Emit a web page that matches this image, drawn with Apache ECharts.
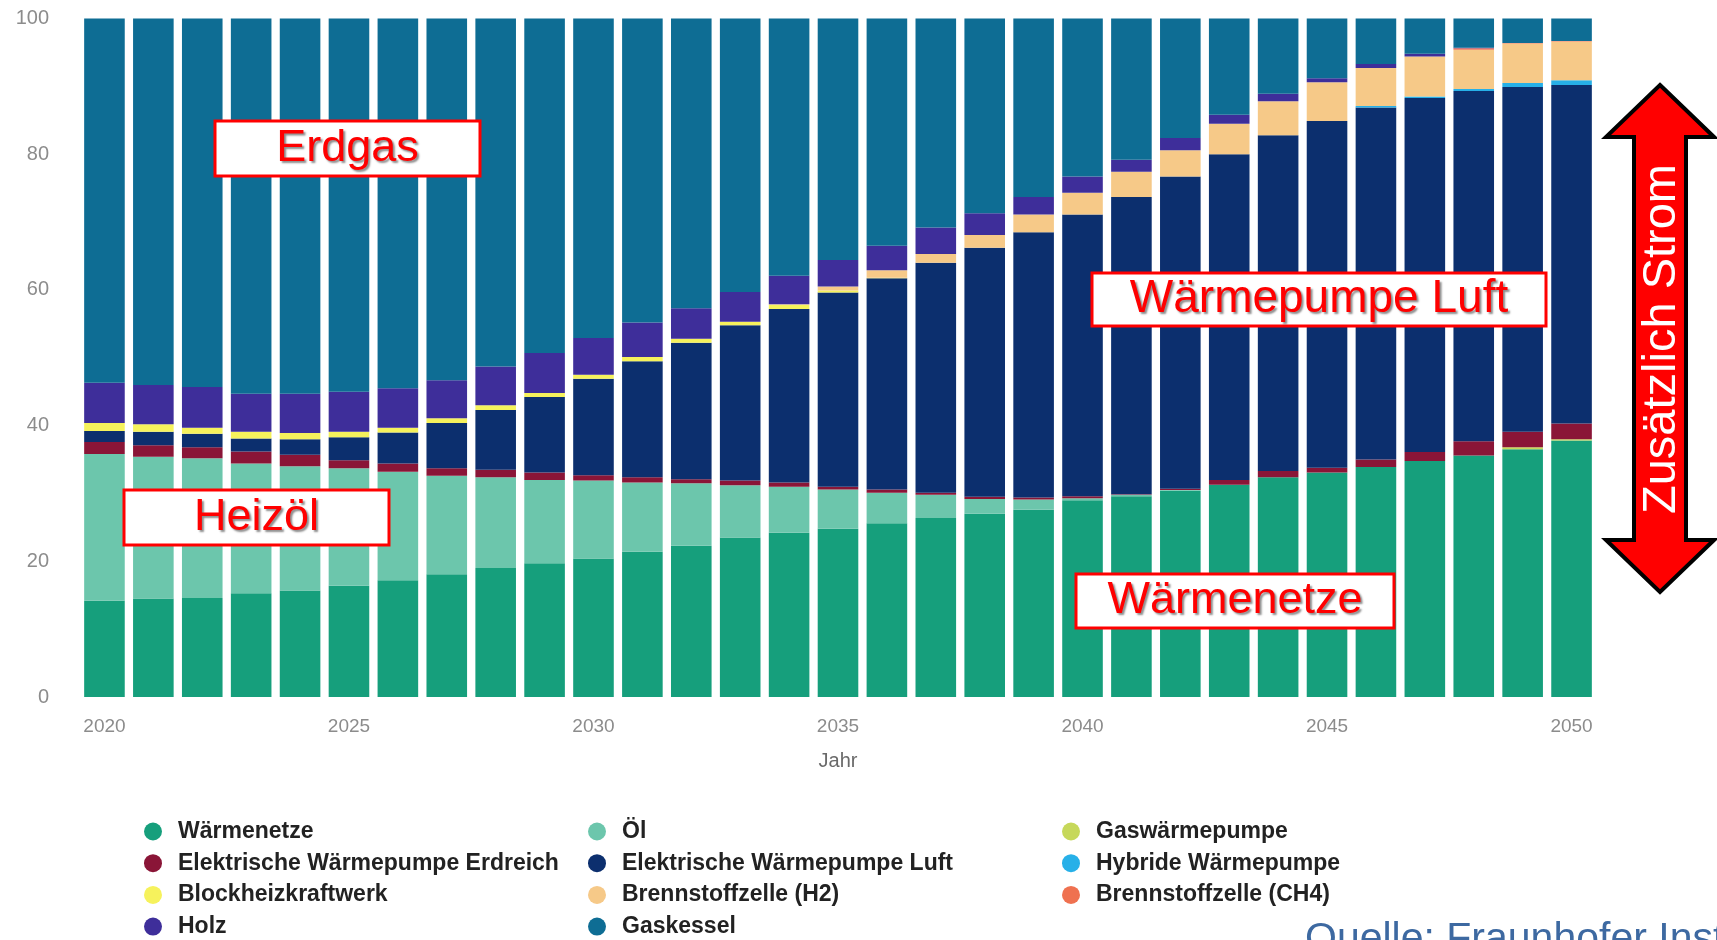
<!DOCTYPE html>
<html>
<head>
<meta charset="utf-8">
<script src="https://cdn.jsdelivr.net/npm/echarts@6/dist/echarts.min.js"></script>
<style>
html,body{margin:0;padding:0;background:#fff;}
#chart{width:1717px;height:940px;}
</style>
</head>
<body>
<div id="chart"></div>
<script>
// ---- Data (share in %) ----
const years = ['2020','2021','2022','2023','2024','2025','2026','2027','2028','2029','2030','2031','2032','2033','2034','2035','2036','2037','2038','2039','2040','2041','2042','2043','2044','2045','2046','2047','2048','2049','2050'];
const yTicks = [0, 20, 40, 60, 80, 100];

const waermenetze = [14.2,14.5,14.6,15.3,15.7,16.4,17.2,18.1,19.0,19.7,20.4,21.4,22.3,23.5,24.2,24.8,25.6,26.4,27.0,27.6,29.0,29.6,30.4,31.3,32.4,33.1,33.9,34.8,35.6,36.5,37.8];
const oel = [21.6,20.9,20.6,19.1,18.3,17.3,16.0,14.5,13.4,12.3,11.5,10.2,9.2,7.7,6.8,5.8,4.5,3.4,2.2,1.5,0.3,0.2,0.1,0,0,0,0,0,0,0,0];
const gaswaermepumpe = [0,0,0,0,0,0,0,0,0,0,0,0,0,0,0,0,0,0,0,0,0,0,0,0,0,0,0,0,0,0.3,0.2];
const wpErdreich = [1.8,1.7,1.6,1.8,1.7,1.2,1.2,1.1,1.1,1.1,0.8,0.8,0.6,0.7,0.6,0.4,0.5,0.3,0.3,0.3,0.3,0.1,0.2,0.7,0.9,0.7,1.1,1.3,2.1,2.3,2.3];
const wpLuft = [1.6,2.0,2.0,1.9,2.3,3.4,4.6,6.7,8.8,11.1,14.2,17.1,20.1,22.9,25.6,28.6,31.1,33.9,36.7,39.1,41.5,43.8,46.0,48.0,49.5,51.1,51.9,52.2,51.6,50.8,49.9];
const hybrideWP = [0,0,0,0,0,0,0,0,0,0,0,0,0,0,0,0,0,0,0,0,0,0,0,0,0,0,0.2,0.2,0.3,0.6,0.7];
const bhkw = [1.2,1.1,0.9,1.0,0.9,0.8,0.7,0.7,0.7,0.6,0.6,0.6,0.6,0.5,0.6,0.3,0.1,0,0,0,0,0,0,0,0,0,0,0,0,0,0];
const bzH2 = [0,0,0,0,0,0,0,0,0,0,0,0,0,0,0.1,0.6,1.1,1.3,1.9,2.6,3.2,3.7,3.9,4.5,5.0,5.7,5.6,5.9,5.8,5.8,5.7];
const bzCH4 = [0,0,0,0,0,0,0,0,0,0,0,0,0,0,0,0,0,0,0,0,0,0,0,0,0,0,0,0,0.2,0.1,0.1];
const holz = [5.9,5.8,6.0,5.6,5.8,5.9,5.8,5.6,5.7,5.9,5.4,5.1,4.5,4.4,4.2,3.9,3.6,3.9,3.2,2.6,2.4,1.8,1.8,1.3,1.1,0.6,0.6,0.4,0.1,0,0];
const gaskessel = [53.7,54.0,54.3,55.3,55.3,55.0,54.5,53.3,51.3,49.3,47.1,44.8,42.7,40.3,37.9,35.6,33.5,30.8,28.7,26.3,23.3,20.8,17.6,14.2,11.1,8.8,6.7,5.2,4.3,3.6,3.3];

// series in stacking order (bottom -> top)
const seriesDefs = [
  {name:'Wärmenetze', data:waermenetze, color:'#169f7c'},
  {name:'Öl', data:oel, color:'#6cc6ac'},
  {name:'Gaswärmepumpe', data:gaswaermepumpe, color:'#c6d85a'},
  {name:'Elektrische Wärmepumpe Erdreich', data:wpErdreich, color:'#8a1537'},
  {name:'Elektrische Wärmepumpe Luft', data:wpLuft, color:'#0c2f6e'},
  {name:'Hybride Wärmepumpe', data:hybrideWP, color:'#27b0e8'},
  {name:'Blockheizkraftwerk', data:bhkw, color:'#f6f25c'},
  {name:'Brennstoffzelle (H2)', data:bzH2, color:'#f6c988'},
  {name:'Brennstoffzelle (CH4)', data:bzCH4, color:'#ef7150'},
  {name:'Holz', data:holz, color:'#3e2e9a'},
  {name:'Gaskessel', data:gaskessel, color:'#0e6d94'}
];

const legendCols = [
  ['Wärmenetze','Elektrische Wärmepumpe Erdreich','Blockheizkraftwerk','Holz'],
  ['Öl','Elektrische Wärmepumpe Luft','Brennstoffzelle (H2)','Gaskessel'],
  ['Gaswärmepumpe','Hybride Wärmepumpe','Brennstoffzelle (CH4)']
];
const legendLefts = [144, 588, 1062];
const legendTop = 820, legendRowStep = 31.7;

const chart = echarts.init(document.getElementById('chart'), null, {renderer:'canvas'});

const legends = [];
legendCols.forEach((col, i) => {
  col.forEach((name, r) => {
    legends.push({
      orient:'horizontal', left:legendLefts[i], top:legendTop + r*legendRowStep, padding:0,
      icon:'circle', itemWidth:18, itemHeight:18,
      selectedMode:false,
      data:[name],
      textStyle:{fontFamily:'Liberation Sans', fontWeight:'bold', fontSize:23, color:'#222', lineHeight:18, padding:[0,0,0,11]}
    });
  });
});

function box(x, y, w, h, text, fs){
  return {
    type:'group', silent:true, z:100,
    children:[
      {type:'rect', z:100, shape:{x:x, y:y, width:w, height:h}, style:{fill:'#fff', stroke:'#ff0000', lineWidth:3}},
      {type:'text', z:101, x:x + w/2, y:y + h/2, style:{text:text, fill:'#ff0000', font:'normal '+fs+'px "Liberation Sans", Arial, sans-serif', textAlign:'center', textVerticalAlign:'middle', textShadowColor:'rgba(0,0,0,0.45)', textShadowOffsetX:2, textShadowOffsetY:2, textShadowBlur:2}}
    ]
  };
}

const option = {
  backgroundColor:'#ffffff',
  animation:false,
  legend: legends,
  grid:{left:80, right:121, top:18.5, bottom:243, containLabel:false},
  xAxis:{
    type:'category', data:years,
    axisLine:{show:false}, axisTick:{show:false},
    axisLabel:{interval:4, color:'#8c8c8c', fontSize:19, fontFamily:'Liberation Sans', margin:20},
    name:'Jahr', nameLocation:'middle', nameGap:54,
    nameTextStyle:{color:'#6a6a6a', fontSize:20, fontFamily:'Liberation Sans'}
  },
  yAxis:{
    type:'value', min:yTicks[0], max:yTicks[yTicks.length-1], interval:20,
    axisLine:{show:false}, axisTick:{show:false}, splitLine:{show:false},
    axisLabel:{color:'#8c8c8c', fontSize:20, fontFamily:'Liberation Sans', margin:31}
  },
  series: seriesDefs.map(s => ({
    name:s.name, type:'bar', stack:'total', data:s.data,
    barCategoryGap:'17%',
    itemStyle:{color:s.color},
    emphasis:{disabled:true}
  })),
  graphic:[
    box(215, 121, 265, 55, 'Erdgas', 45),
    box(124, 490, 265, 55, 'Heizöl', 45),
    box(1092, 273, 454, 53, 'Wärmepumpe Luft', 46),
    box(1076, 574, 318, 54, 'Wärmenetze', 45),
    {
      type:'polygon', silent:true, z:100,
      shape:{points:[[1660,85],[1714,137],[1686,137],[1686,540],[1714,540],[1660,592],[1606,540],[1634,540],[1634,137],[1606,137]]},
      style:{fill:'#ff0000', stroke:'#000', lineWidth:4, lineJoin:'miter'}
    },
    {
      type:'text', silent:true, z:101, x:1662, y:339, rotation:Math.PI/2,
      style:{text:'Zusätzlich Strom', fill:'#fff', font:'normal 47px "Liberation Sans", Arial, sans-serif', textAlign:'center', textVerticalAlign:'middle'}
    },
    {
      type:'text', silent:true, z:101, x:1305, y:919,
      style:{text:'Quelle: Fraunhofer Institut', fill:'#3d69a1', font:'normal 41px "Liberation Sans", Arial, sans-serif', textAlign:'left', textVerticalAlign:'top'}
    }
  ]
};
chart.setOption(option);
</script>
</body>
</html>
